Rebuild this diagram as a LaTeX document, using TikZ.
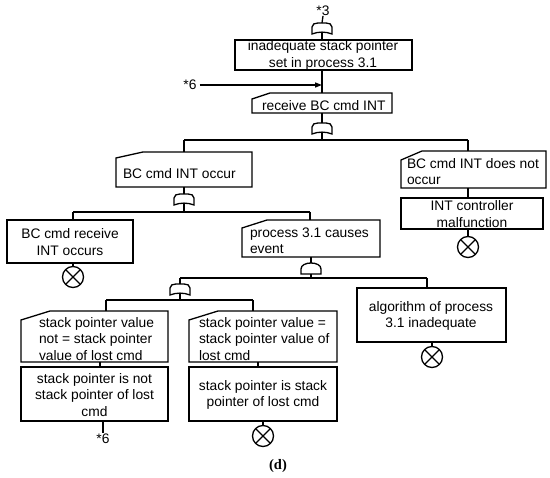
\documentclass[tikz,border=0pt]{standalone}
\usepackage{fontspec}
\setmainfont{Liberation Sans}
\newfontfamily\capfont{Liberation Serif}
\usetikzlibrary{arrows.meta,calc}
\tikzset{
  txt/.style={inner sep=0pt, outer sep=0pt, font=\fontsize{13.8}{16.5}\selectfont},
  boxshape/.style={draw, inner sep=0pt, outer sep=0pt},
  cutshape/.style={inner sep=0pt, outer sep=0pt},
  evt/.style={circle, draw, minimum size=21pt, inner sep=0pt, outer sep=0pt,
    path picture={\draw (path picture bounding box.north west) -- (path picture bounding box.south east)
      (path picture bounding box.north east) -- (path picture bounding box.south west);}},
  orgate/.pic={\draw (-10,11) -- (-10,4) .. controls (-10,1) and (-7,0) .. (-4,0) -- (4,0)
      .. controls (7,0) and (10,1) .. (10,4) -- (10,11) .. controls (4,8.5) and (-4,8.5) .. (-10,11) -- cycle;
      \coordinate (-in) at (0,0); \coordinate (-out) at (0,9);},
  andgate/.pic={\draw (-10,11) -- (-10,6) .. controls (-10,-2) and (10,-2) .. (10,6) -- (10,11) -- cycle;
      \coordinate (-in) at (0,0); \coordinate (-out) at (0,11);},
}
\newcommand\mybox[5]{\node[boxshape, minimum width={(#4-#2)*1pt}, minimum height={(#5-#3)*1pt}] (#1) at ({(#2+#4)/2},{(#3+#5)/2}) {};}
\newcommand\mycut[7]{\node[cutshape, minimum width={(#4-#2)*1pt}, minimum height={(#5-#3)*1pt}] (#1) at ({(#2+#4)/2},{(#3+#5)/2}) {};
  \draw ($(#1.north west)+(0,#7)$) -- ($(#1.north west)+(#6,0)$) -- (#1.north east) -- (#1.south east) -- (#1.south west) -- cycle;}
\begin{document}
\begin{tikzpicture}[x=1pt, y=-1pt, line width=1.3pt]
\useasboundingbox[fill=white] (0,0) rectangle (550,478);
% top
\node[txt] (s3) at (323,11) {*3};
\pic (g0) at (322,23) {orgate};
\mybox{b1}{235}{40}{412}{70}
\node[txt, align=center] (t1) at (323,55.5) {inadequate stack pointer\\set in process 3.1};
\mycut{b2}{252}{93}{392}{113}{18}{6}
\node[txt, anchor=west] (t2) at (262,105.5) {receive BC cmd INT};
\node[txt] (s6a) at (190,85) {*6};
\coordinate (a6) at (322,85);
\pic (g1) at (322,123) {orgate};
% level 2
\coordinate (j1L) at (184,140);
\coordinate (j1R) at (468,140);
\mycut{b3}{116}{152}{252}{187}{27}{6}
\node[txt, anchor=west] (t3) at (123,174) {BC cmd INT occur};
\mycut{b4}{401}{151}{546}{188}{21}{9}
\node[txt, anchor=west, align=left] (t4) at (407,171.5) {BC cmd INT does not\\occur};
\mybox{b7}{401}{198}{543}{229}
\node[txt, align=center] (t7) at (472,214) {INT controller\\malfunction};
\node[evt] (c2) at (468,247) {};
% level 3
\pic (g2) at (184,194) {orgate};
\coordinate (j2L) at (73,212);
\coordinate (j2R) at (310,212);
\mybox{b5}{7}{220}{133}{263}
\node[txt, align=center] (t5) at (70,242) {BC cmd receive\\INT occurs};
\node[evt] (c1) at (73,277) {};
\mycut{b6}{242}{220}{380}{257}{25}{8}
\node[txt, anchor=west, align=left] (t6) at (250,241) {process 3.1 causes\\event};
\pic (g3) at (311,263) {andgate};
\coordinate (j3L) at (180,278);
\coordinate (j3R) at (427,278);
\pic (g4) at (180,284) {orgate};
\coordinate (j4L) at (106,300);
\coordinate (j4R) at (253,300);
% bottom
\mycut{b8}{21}{311}{168}{362}{29}{9}
\node[txt, anchor=west, align=left] (t8) at (39,339) {stack pointer value\\not = stack pointer\\value of lost cmd};
\mybox{b9}{21}{367}{168}{421}
\node[txt, align=center] (t9) at (94.5,395) {stack pointer is not\\stack pointer of lost\\cmd};
\node[txt] (s6b) at (103,439) {*6};
\mycut{b11}{189}{311}{337}{362}{29}{9}
\node[txt, anchor=west, align=left] (t11) at (199,339) {stack pointer value =\\stack pointer value of\\lost cmd};
\mybox{b12}{189}{367}{337}{421}
\node[txt, align=center] (t12) at (263,395) {stack pointer is stack\\pointer of lost cmd};
\node[evt] (c3) at (263,436) {};
\mybox{b10}{357}{288}{506}{342}
\node[txt, align=center] (t10) at (431,316) {algorithm of process\\3.1 inadequate};
\node[evt] (c4) at (432,357) {};
\node[inner sep=0pt, font=\capfont\bfseries\fontsize{14.5}{16}\selectfont] (cap) at (278,466) {(d)};
% connectors
\draw (s3.south) -- (g0-in);
\draw (g0-out) -- (b1.north -| g0-out);
\draw (b1.south -| b2.north) -- (b2.north);
\draw[-{Triangle[length=7pt,width=5pt]}] ([xshift=3pt]s6a.east) -- (a6);
\draw (b2.south -| g1-in) -- (g1-in);
\draw (g1-out) -- (g1-out |- j1L);
\draw (j1L) -- (j1R);
\draw (j1L) -- (j1L |- b3.north);
\draw (j1R) -- (j1R |- b4.north);
\draw (b4.south -| j1R) -- (b7.north -| j1R);
\draw (b7.south -| c2.north) -- (c2.north);
\draw (b3.south -| g2-in) -- (g2-in);
\draw (g2-out) -- (g2-out |- j2L);
\draw (j2L) -- (j2R);
\draw (j2L) -- (j2L |- b5.north);
\draw (j2R) -- (j2R |- b6.north);
\draw (b5.south -| c1.north) -- (c1.north);
\draw (b6.south -| g3-in) -- (g3-in);
\draw (g3-out) -- (g3-out |- j3L);
\draw (j3L) -- (j3R);
\draw (j3L) -- (g4-in);
\draw (j3R) -- (j3R |- b10.north);
\draw (b10.south -| c4.north) -- (c4.north);
\draw (g4-out) -- (g4-out |- j4L);
\draw (j4L) -- (j4R);
\draw (j4L) -- (j4L |- b8.north);
\draw (j4R) -- (j4R |- b11.north);
\draw (b8.south -| 100,0) -- (b9.north -| 100,0);
\draw (b11.south -| 258,0) -- (b12.north -| 258,0);
\draw (b9.south -| s6b.north) -- ([yshift=1pt]s6b.north);
\draw (b12.south -| c3.north) -- (c3.north);
\end{tikzpicture}
\end{document}
